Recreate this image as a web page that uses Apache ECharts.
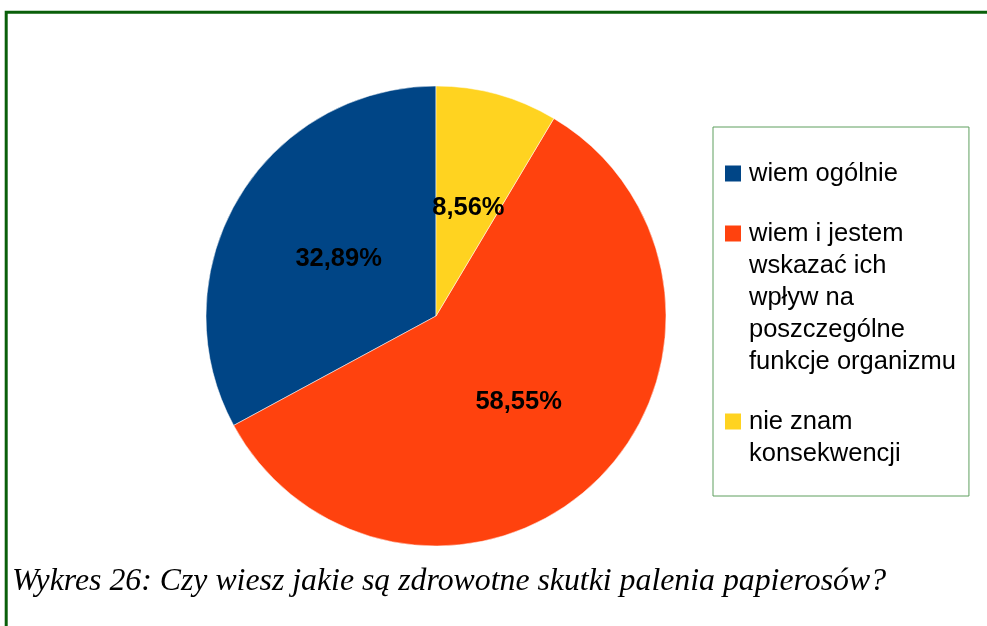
<!DOCTYPE html>
<html>
<head>
<meta charset="utf-8">
<script src="https://cdn.jsdelivr.net/npm/echarts@6/dist/echarts.min.js"></script>
<style>
html, body { margin: 0; padding: 0; background: #fff; }
#chart { width: 987px; height: 626px; }
</style>
</head>
<body>
<div id="chart"></div>
<script>
// dane z wykresu
const categories = ["wiem ogólnie", "wiem i jestem wskazać ich wpływ na poszczególne funkcje organizmu", "nie znam konsekwencji"];
const legendLines = [
  ["wiem ogólnie"],
  ["wiem i jestem", "wskazać ich", "wpływ na", "poszczególne", "funkcje organizmu"],
  ["nie znam", "konsekwencji"]
];
const values = [32.89, 58.55, 8.56];
const colors = ["#004586", "#ff420e", "#ffd320"];
const caption = "Wykres 26: Czy wiesz jakie są zdrowotne skutki palenia papierosów?";

let chart = echarts.init(document.getElementById("chart"));

// drobne przesunięcia etykiet jak w oryginale
let labelShift = [[4, 3], [1, 1], [1, 6]];

let rich = {
  t: { fontFamily: "Liberation Sans", fontSize: 25.5, lineHeight: 32, color: "#000" },
  g: { width: 8, height: 16, lineHeight: 32 },
  s: { width: 24, height: 16, lineHeight: 32 }
};
colors.forEach(function (c, i) {
  rich["m" + i] = { width: 16, height: 16, lineHeight: 32, backgroundColor: c };
});

let option = {
  animation: false,
  color: colors,
  title: {
    text: caption,
    left: 12,
    top: 566,
    padding: 0,
    textStyle: {
      fontFamily: "Liberation Serif",
      fontStyle: "italic",
      fontWeight: "normal",
      fontSize: 31.8,
      color: "#000"
    }
  },
  legend: {
    orient: "vertical",
    left: 713,
    top: 127,
    padding: [33.5, 13, 29.5, 7],
    itemGap: 34,
    itemWidth: 0,
    itemHeight: 16,
    icon: "none",
    selectedMode: false,
    borderColor: "#5f9f5f",
    borderWidth: 1,
    data: categories,
    formatter: function (name) {
      let i = categories.indexOf(name);
      return legendLines[i].map(function (line, k) {
        return (k === 0 ? "{m" + i + "|}{g|}" : "{s|}") + "{t|" + line + "}";
      }).join("\n");
    },
    textStyle: { rich: rich }
  },
  graphic: [
    {
      // zielona ramka
      type: "rect",
      z: -10,
      shape: { x: 6.2, y: 12.3, width: 1200, height: 900 },
      style: { fill: "none", stroke: "#0a5f0a", lineWidth: 3 }
    }
  ],
  series: [
    {
      type: "pie",
      center: [436, 316],
      radius: 230,
      startAngle: 90,
      clockwise: false,
      silent: true,
      data: categories.map(function (name, i) {
        return { name: name, value: values[i], label: { offset: labelShift[i] } };
      }),
      itemStyle: { borderColor: "#fff", borderWidth: 0.5 },
      label: {
        position: "inside",
        fontFamily: "Liberation Sans",
        fontWeight: "bold",
        fontSize: 25.5,
        color: "#000",
        formatter: function (p) {
          return p.value.toFixed(2).replace(".", ",") + "%";
        }
      },
      labelLine: { show: false },
      emphasis: { disabled: true }
    }
  ]
};
chart.setOption(option);
</script>
</body>
</html>
